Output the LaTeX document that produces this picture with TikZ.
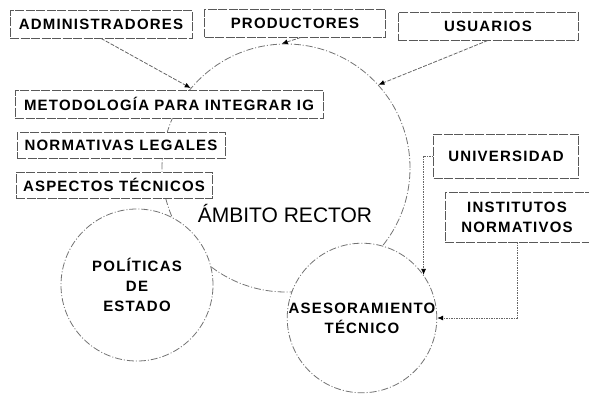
\documentclass[tikz,border=0pt]{standalone}
\usepackage{fontspec}
\newfontfamily\lbl[LetterSpace=8]{Liberation Sans}
\usetikzlibrary{arrows.meta, positioning}

\begin{document}
\begin{tikzpicture}[x=1pt, y=-1pt, >={Latex[length=6pt, width=5pt, color=black]},
            box/.style={rectangle, draw=black!65, fill=white, line width=0.8pt, dash pattern=on 9pt off 1.5pt, align=center, inner sep=0pt, font=\lbl\bfseries\fontsize{15}{20}\selectfont},
            ring/.style={circle, draw=black!55, line width=0.8pt, dash pattern=on 7pt off 2pt on 1pt off 2pt, align=center, inner sep=0pt, font=\lbl\bfseries\fontsize{15}{20}\selectfont},
            link/.style={draw=black!60, line width=0.8pt, dash pattern=on 4pt off 1.5pt},
            dotlink/.style={draw=black!60, line width=0.8pt, dash pattern=on 1.5pt off 1pt}]

            \useasboundingbox (0,0) rectangle (589,394);

            % Circles
            \node[ring, minimum size=248pt] (rector) at (286,168) {};
            \node[font=\fontspec{Liberation Sans}\fontsize{21}{24}\selectfont] (rectorlbl) at (285,213) {ÁMBITO RECTOR};
            \node[ring, fill=white, minimum size=152pt] (politicas) at (137,285) {POLÍTICAS\\DE\\ESTADO};
            \node[ring, fill=white, minimum size=148pt] (asesor) at (362,318) {ASESORAMIENTO\\TÉCNICO};

            % Boxes
            \node[box, minimum width=182pt, minimum height=28pt] (admin) at (101,24) {ADMINISTRADORES};
            \node[box, minimum width=181pt, minimum height=28pt] (produc) at (295,23) {PRODUCTORES};
            \node[box, minimum width=180pt, minimum height=28pt] (usuarios) at (488,26) {USUARIOS};
            \node[box, minimum width=308pt, minimum height=28pt] (metodo) at (169,104) {METODOLOGÍA PARA INTEGRAR IG};
            \node[box, minimum width=208pt, minimum height=26pt] (normas) at (121,145) {NORMATIVAS LEGALES};
            \node[box, minimum width=196pt, minimum height=26pt] (aspectos) at (114,185) {ASPECTOS TÉCNICOS};
            \node[box, minimum width=145pt, minimum height=44pt] (univ) at (506,156) {UNIVERSIDAD};
            \node[box, minimum width=144pt, minimum height=50pt] (inst) at (517,217) {INSTITUTOS\\NORMATIVOS};

            % Edges
            \draw[link, ->] (admin.south) -- (rector.140);
            \draw[link, ->] ([xshift=6pt]produc.south) -- (rector.92);
            \draw[link, ->] (usuarios.south) -- (rector.42);
            \draw[dotlink, ->] (univ.west) -| (asesor.35);
            \draw[dotlink, ->] (inst.south) |- (asesor.east);
\end{tikzpicture}
\end{document}
